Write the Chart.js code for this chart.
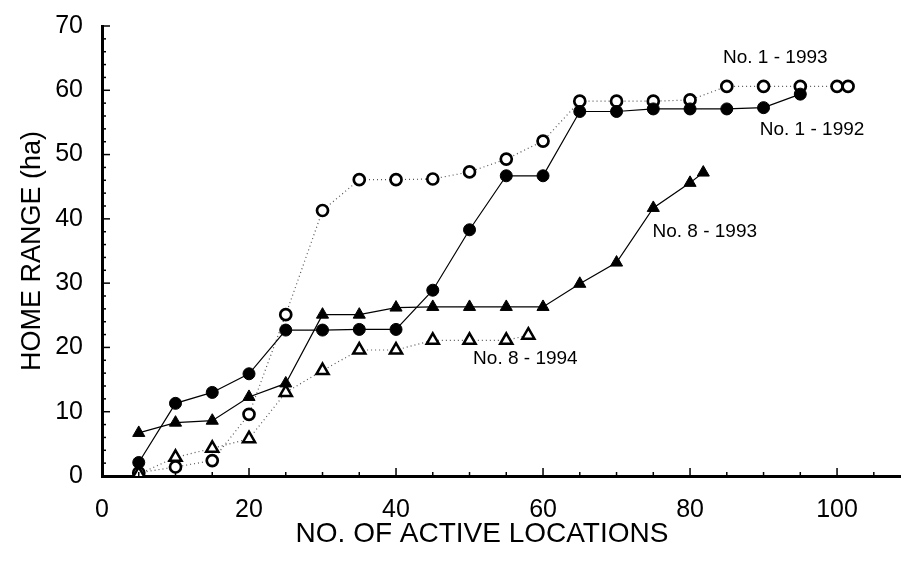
<!DOCTYPE html>
<html>
<head>
<meta charset="utf-8">
<script src="https://cdn.jsdelivr.net/npm/chart.js@4/dist/chart.umd.min.js"></script>
<style>
  html, body { margin: 0; padding: 0; background: #fff; overflow: hidden; }
  canvas { display: block; }
</style>
</head>
<body>
<canvas id="grafica" width="901" height="569"></canvas>
<script>
// Datos
const locs1992 = [5, 10, 15, 20, 25, 30, 35, 40, 45, 50, 55, 60, 65, 70, 75, 80, 85, 90, 95];
const range1992 = [2.1, 11.3, 13.0, 15.9, 22.7, 22.7, 22.8, 22.8, 28.9, 38.3, 46.7, 46.7, 56.7, 56.7, 57.1, 57.1, 57.1, 57.3, 59.4];

const locs1993 = [5, 10, 15, 20, 25, 30, 35, 40, 45, 50, 55, 60, 65, 70, 75, 80, 85, 90, 95, 100, 101.5];
const range1993 = [0.5, 1.4, 2.4, 9.6, 25.1, 41.3, 46.1, 46.1, 46.2, 47.3, 49.3, 52.1, 58.3, 58.3, 58.3, 58.5, 60.6, 60.6, 60.6, 60.6, 60.6];

const locs8_1993 = [5, 10, 15, 20, 25, 30, 35, 40, 45, 50, 55, 60, 65, 70, 75, 80, 81.8];
const range8_1993 = [6.7, 8.3, 8.6, 12.3, 14.4, 25.1, 25.1, 26.2, 26.3, 26.3, 26.3, 26.3, 29.9, 33.2, 41.7, 45.6, 47.2];

const locs8_1994 = [5, 10, 15, 20, 25, 30, 35, 40, 45, 50, 55, 58];
const range8_1994 = [0.3, 2.9, 4.3, 5.8, 13.0, 16.4, 19.6, 19.6, 21.1, 21.1, 21.1, 21.9];

const xTicks = [0, 20, 40, 60, 80, 100];
const yTicks = [0, 10, 20, 30, 40, 50, 60, 70];

// Etiquetas de las series (texto y posicion en unidades del grafico)
const seriesLabels = ['No. 1 - 1993', 'No. 1 - 1992', 'No. 8 - 1993', 'No. 8 - 1994'];
const labelX = [91.6, 96.6, 82.0, 57.6];
const labelY = [65.1, 53.8, 38.0, 18.2];

const xTitle = 'NO. OF ACTIVE LOCATIONS';

const FONT = '"Liberation Sans", Arial, Helvetica, sans-serif';

function toPoints(xs, ys) {
  return xs.map((x, i) => ({ x: x, y: ys[i] }));
}

// Marcas de los ejes hacia dentro, titulo X y etiquetas de las series
const marcasEjes = {
  id: 'marcasEjes',
  afterDraw(chart) {
    const { ctx, chartArea: a, scales: { x, y } } = chart;
    ctx.save();
    ctx.strokeStyle = '#000';
    ctx.lineWidth = 1.5;
    for (let v = 5; v <= 105; v += 5) {
      const px = x.getPixelForValue(v);
      const len = v % 20 === 0 ? 8 : 4;
      ctx.beginPath();
      ctx.moveTo(px, a.bottom);
      ctx.lineTo(px, a.bottom - len);
      ctx.stroke();
    }
    for (let v = 2; v <= 70; v += 2) {
      const py = y.getPixelForValue(v);
      const len = v % 10 === 0 ? 8 : 4;
      ctx.beginPath();
      ctx.moveTo(a.left, py);
      ctx.lineTo(a.left + len, py);
      ctx.stroke();
    }
    ctx.fillStyle = '#000';
    ctx.textAlign = 'center';
    ctx.textBaseline = 'middle';
    ctx.font = '19px ' + FONT;
    seriesLabels.forEach((t, i) => {
      ctx.fillText(t, x.getPixelForValue(labelX[i]), y.getPixelForValue(labelY[i]));
    });
    ctx.font = '28px ' + FONT;
    ctx.fillText(xTitle, 482, 534);
    ctx.restore();
  }
};

const ctx = document.getElementById('grafica').getContext('2d');
new Chart(ctx, {
  type: 'line',
  data: {
    datasets: [
      {
        label: 'No. 8 - 1994',
        data: toPoints(locs8_1994, range8_1994),
        borderColor: '#555',
        borderWidth: 1.2,
        borderDash: [1, 3],
        pointStyle: 'triangle',
        pointRadius: 7,
        pointBackgroundColor: '#fff',
        pointBorderColor: '#000',
        pointBorderWidth: 2.5,
        tension: 0
      },
      {
        label: 'No. 8 - 1993',
        data: toPoints(locs8_1993, range8_1993),
        borderColor: '#000',
        borderWidth: 1.2,
        pointStyle: 'triangle',
        pointRadius: 7,
        pointBackgroundColor: '#000',
        pointBorderColor: '#000',
        pointBorderWidth: 1,
        tension: 0
      },
      {
        label: 'No. 1 - 1992',
        data: toPoints(locs1992, range1992),
        borderColor: '#000',
        borderWidth: 1.2,
        pointStyle: 'circle',
        pointRadius: 6,
        pointBackgroundColor: '#000',
        pointBorderColor: '#000',
        pointBorderWidth: 1,
        tension: 0
      },
      {
        label: 'No. 1 - 1993',
        data: toPoints(locs1993, range1993),
        borderColor: '#555',
        borderWidth: 1.2,
        borderDash: [1, 3],
        pointStyle: 'circle',
        pointRadius: 5.5,
        pointBackgroundColor: '#fff',
        pointBorderColor: '#000',
        pointBorderWidth: 2.7,
        tension: 0
      }
    ]
  },
  options: {
    responsive: false,
    animation: false,
    layout: { autoPadding: false, padding: { top: 19, right: 0, bottom: 0, left: 0 } },
    plugins: {
      legend: { display: false },
      tooltip: { enabled: false }
    },
    scales: {
      x: {
        type: 'linear',
        min: 0,
        max: 108.7,
        afterFit: s => { s.height = 93; s.paddingRight = 0; s.paddingLeft = 0; },
        afterBuildTicks: s => { s.ticks = xTicks.map(v => ({ value: v })); },
        grid: { display: false },
        border: { display: true, color: '#000', width: 3 },
        ticks: {
          color: '#000',
          padding: 11,
          font: { size: 25, family: FONT },
          maxRotation: 0,
          autoSkip: false
        }
      },
      y: {
        type: 'linear',
        min: 0,
        max: 70,
        afterFit: s => { s.width = 102; },
        afterBuildTicks: s => { s.ticks = yTicks.map(v => ({ value: v })); },
        grid: { display: false },
        border: { display: true, color: '#000', width: 3 },
        ticks: {
          color: '#000',
          padding: 11,
          font: { size: 25, family: FONT },
          autoSkip: false
        },
        title: {
          display: true,
          text: 'HOME RANGE (ha)',
          color: '#000',
          font: { size: 27, family: FONT },
          padding: { top: 16, bottom: 0 }
        }
      }
    }
  },
  plugins: [marcasEjes]
});
</script>
</body>
</html>
